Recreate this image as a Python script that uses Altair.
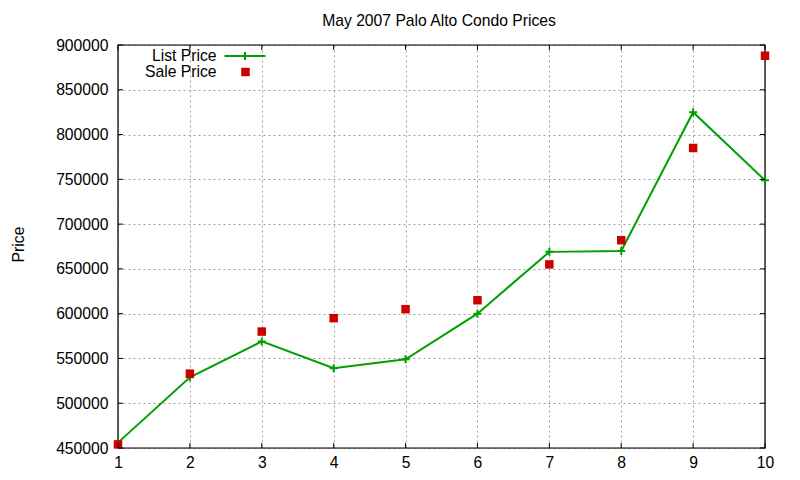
import altair as alt
import pandas as pd

months = list(range(1, 11))
list_price = [456000, 529000, 569000, 539000, 549000, 600000, 669000, 670000, 825000, 749000]
sale_price = [454000, 533000, 580000, 595000, 605000, 615000, 655000, 682000, 785000, 888000]
y_ticks = list(range(450000, 900001, 50000))
x_ticks = months
legend_labels = ["List Price", "Sale Price"]
title_text = ["May 2007 Palo Alto Condo Prices"]

W, H = 647, 403
FONT = "Liberation Sans"
FS = 15.7
GREEN = "#00a000"
RED = "#cc0000"
PLUS = "M-1,0H1M0,-1V1"

df = pd.DataFrame({"x": months, "list": list_price, "sale": sale_price})
ytdf = pd.DataFrame({"v": y_ticks})
xtdf = pd.DataFrame({"v": x_ticks})

xscale = alt.Scale(domain=[1, 10], nice=False, zero=False)
yscale = alt.Scale(domain=[450000, 900000], nice=False, zero=False)

xaxis = alt.Axis(values=x_ticks, title=None, grid=True, tickSize=0, labelPadding=7,
                 domain=False, labelFontSize=FS, labelFont=FONT, labelColor="black",
                 gridColor="#a0a0a0", gridDash=[2, 3], labelFlush=False, labelOverlap=False)
yaxis = alt.Axis(values=y_ticks, format="d", title="Price", grid=True, tickSize=0,
                 labelPadding=10, domain=False, labelFontSize=FS, labelFont=FONT,
                 labelColor="black", gridColor="#a0a0a0", gridDash=[2, 3],
                 labelFlush=False, labelOverlap=False,
                 titleFont=FONT, titleFontSize=FS, titleFontWeight="normal",
                 titleColor="black", titleX=-95, titleY=199, titleBaseline="alphabetic")


def X(f):
    return alt.X(f, scale=xscale, axis=xaxis)


def Y(f):
    return alt.Y(f, scale=yscale, axis=yaxis)


base = alt.Chart(df)
line = base.mark_line(color=GREEN, strokeWidth=2, clip=False).encode(x=X("x:Q"), y=Y("list:Q"))
plus = base.mark_point(shape=PLUS, size=64, filled=False, stroke=GREEN, strokeWidth=2,
                       opacity=1, clip=False).encode(x=X("x:Q"), y=Y("list:Q"))
squares = base.mark_point(shape="square", size=72, filled=True, color=RED, opacity=1,
                          clip=False).encode(x=X("x:Q"), y=Y("sale:Q"))

TL = 5
yt_left = alt.Chart(ytdf).mark_rule(color="black", strokeWidth=1).encode(
    y=Y("v:Q"), x=alt.value(0), x2=alt.value(TL))
yt_right = alt.Chart(ytdf).mark_rule(color="black", strokeWidth=1).encode(
    y=Y("v:Q"), x=alt.value(W - TL), x2=alt.value(W))
xt_bot = alt.Chart(xtdf).mark_rule(color="black", strokeWidth=1).encode(
    x=X("v:Q"), y=alt.value(H - TL), y2=alt.value(H))
xt_top = alt.Chart(xtdf).mark_rule(color="black", strokeWidth=1).encode(
    x=X("v:Q"), y=alt.value(0), y2=alt.value(TL))

border = alt.Chart(pd.DataFrame({"t": [0]})).mark_rect(
    fillOpacity=0, stroke="black", strokeWidth=1.2).encode(
    x=alt.value(0), x2=alt.value(W), y=alt.value(0), y2=alt.value(H))

title = alt.Chart(pd.DataFrame({"t": title_text})).mark_text(
    align="center", baseline="alphabetic", fontSize=FS, font=FONT, color="black").encode(
    x=alt.value(321), y=alt.value(-19.5), text="t:N")

ldf = pd.DataFrame({"t": legend_labels})
leg_text1 = alt.Chart(ldf.iloc[[0]]).mark_text(align="right", baseline="middle", fontSize=FS,
                                              font=FONT, color="black").encode(
    x=alt.value(98.5), y=alt.value(10.5), text="t:N")
leg_text2 = alt.Chart(ldf.iloc[[1]]).mark_text(align="right", baseline="middle", fontSize=FS,
                                              font=FONT, color="black").encode(
    x=alt.value(98.5), y=alt.value(26.5), text="t:N")
leg_line = alt.Chart(ldf.iloc[[0]]).mark_rule(color=GREEN, strokeWidth=2).encode(
    x=alt.value(106.5), x2=alt.value(147.5), y=alt.value(11))
leg_plus = alt.Chart(ldf.iloc[[0]]).mark_point(shape=PLUS, size=64, filled=False, stroke=GREEN,
                                             strokeWidth=2, opacity=1).encode(
    x=alt.value(127), y=alt.value(11))
leg_sq = alt.Chart(ldf.iloc[[1]]).mark_point(shape="square", size=72, filled=True, color=RED,
                                           opacity=1).encode(x=alt.value(127.5), y=alt.value(27))

chart = alt.layer(
    border, line, plus, squares, yt_left, yt_right, xt_bot, xt_top,
    leg_text1, leg_text2, leg_line, leg_plus, leg_sq, title
).properties(
    width=W, height=H,
    autosize=alt.AutoSizeParams(type="none"),
    padding={"left": 110, "top": 37, "right": 26, "bottom": 32},
).configure_view(stroke=None).configure(background="white")

chart.save("out.html", embed_options={"renderer": "svg", "actions": False})
